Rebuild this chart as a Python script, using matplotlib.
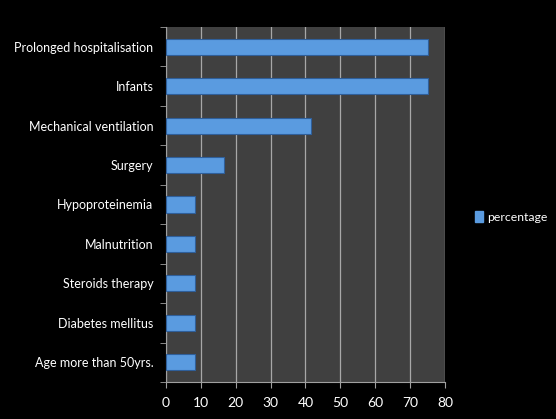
import matplotlib
matplotlib.use("Agg")
import matplotlib.pyplot as plt
from matplotlib.patches import Patch

categories = ["Age more than 50yrs.", "Diabetes mellitus", "Steroids therapy",
              "Malnutrition", "Hypoproteinemia", "Surgery",
              "Mechanical ventilation", "Infants", "Prolonged hospitalisation"]
percentage = [8.3, 8.3, 8.3, 8.3, 8.3, 16.7, 41.7, 75, 75]
xticks = [0, 10, 20, 30, 40, 50, 60, 70, 80]

plt.rcParams['font.family'] = ['Lato', 'DejaVu Sans']

fig = plt.figure(figsize=(5.56, 4.19), dpi=100, facecolor='black')
ax = fig.add_axes([0.2986, 0.0883, 0.5017, 0.8473])
ax.set_facecolor('#404040')

ypos = list(range(len(categories)))
ax.barh(ypos, percentage, height=0.41, color='#5a9be0', edgecolor='#2f5f9a',
        linewidth=0.8, zorder=3)

ax.set_xlim(0, 80)
ax.set_ylim(-0.5, len(categories) - 0.5)
ax.set_xticks(xticks)
ax.set_xticklabels([str(t) for t in xticks], color='white', fontsize=10)
ax.set_yticks(ypos)
ax.set_yticklabels(categories, color='white', fontsize=9)
ax.set_yticks([y + 0.5 for y in [-1] + ypos], minor=True)
ax.tick_params(axis='y', which='major', length=0, pad=9)
ax.tick_params(axis='y', which='minor', length=4, color='#a0a0a0')
ax.tick_params(axis='x', length=4, color='#a0a0a0', pad=7)

ax.grid(axis='x', color='#a8a8a8', linewidth=0.9, zorder=1)
ax.spines['top'].set_visible(False)
ax.spines['right'].set_visible(False)
ax.spines['left'].set_color('#a0a0a0')
ax.spines['bottom'].set_color('#a0a0a0')

handle = Patch(facecolor='#5a9be0', edgecolor='#5a9be0')
leg = fig.legend([handle], ['percentage'], loc='center left',
                 bbox_to_anchor=(0.835, 0.482), frameon=False,
                 handlelength=0.6, handleheight=0.9, handletextpad=0.4,
                 fontsize=8.8)
for t in leg.get_texts():
    t.set_color('white')

fig.savefig('out.png', dpi=100, facecolor='black')
